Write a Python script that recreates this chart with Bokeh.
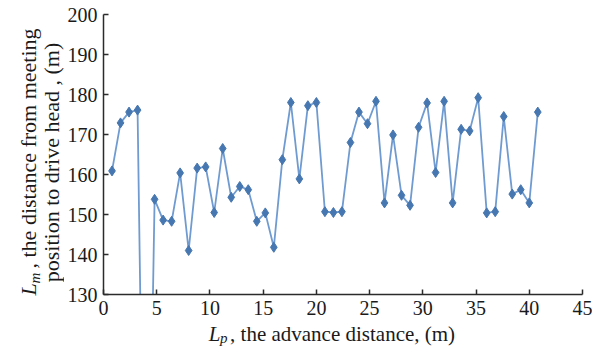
import math
from bokeh.plotting import figure
from bokeh.models import Range1d, FixedTicker
from bokeh.layouts import row, column
from bokeh.core.properties import value
from bokeh.embed import file_html
from bokeh.resources import INLINE

# ---- data ----
advance_m = [0.8, 1.6, 2.4, 3.2, 4.0, 4.8, 5.6, 6.4, 7.2, 8.0,
             8.8, 9.6, 10.4, 11.2, 12.0, 12.8, 13.6, 14.4, 15.2, 16.0,
             16.8, 17.6, 18.4, 19.2, 20.0, 20.8, 21.6, 22.4, 23.2, 24.0,
             24.8, 25.6, 26.4, 27.2, 28.0, 28.8, 29.6, 30.4, 31.2, 32.0,
             32.8, 33.6, 34.4, 35.2, 36.0, 36.8, 37.6, 38.4, 39.2, 40.0,
             40.8]
distance_m = [160.9, 172.9, 175.6, 176.1, 30.0, 153.8, 148.6, 148.3, 160.4, 141.0,
              161.6, 161.9, 150.5, 166.5, 154.3, 157.0, 156.2, 148.3, 150.4, 141.8,
              163.7, 178.0, 158.9, 177.2, 178.0, 150.7, 150.5, 150.7, 168.0, 175.6,
              172.7, 178.3, 152.9, 169.9, 154.8, 152.3, 171.8, 177.9, 160.5, 178.3,
              152.9, 171.3, 170.9, 179.2, 150.4, 150.7, 174.5, 155.1, 156.2, 152.9,
              175.6]
x_ticks = [0, 5, 10, 15, 20, 25, 30, 35, 40, 45]
y_ticks = [130, 140, 150, 160, 170, 180, 190, 200]

x_title_italic = "L"
x_title_sub = "p"
x_title_rest = ", the advance distance,  (m)"
y_title1_italic = "L"
y_title1_sub = "m"
y_title1_rest = ", the distance from meeting"
y_title2 = "position to drive head , (m)"

# ---- layout geometry (pixels) ----
TOTAL_W, TOTAL_H = 592, 346
LEFT_W = 64                      # strip holding the rotated y title
MAIN_W = TOTAL_W - LEFT_W
BOTTOM_H = 24                    # strip holding the x title
MAIN_H = TOTAL_H - BOTTOM_H
B_LEFT, B_TOP, B_RIGHT = 38, 14, 10
B_BOTTOM = MAIN_H - B_TOP - 280

FONT = "Liberation Serif"
AXIS_COL = "#2b2b2b"
TXT = "#1a1a1a"
LINE_COL = "#6f9bd0"
MARK_COL = "#4677b0"

# ---- main chart ----
p = figure(width=MAIN_W, height=MAIN_H, output_backend="svg", toolbar_location=None,
           tools="", x_range=Range1d(0, 45), y_range=Range1d(130, 200),
           min_border_left=B_LEFT, min_border_top=B_TOP,
           min_border_right=B_RIGHT, min_border_bottom=B_BOTTOM)
p.outline_line_color = None
p.xgrid.visible = False
p.ygrid.visible = False

p.line(advance_m, distance_m, line_color=LINE_COL, line_width=1.8)
p.scatter(advance_m, distance_m, marker="diamond", size=10,
          fill_color=MARK_COL, line_color=MARK_COL)

for ax, ticks in ((p.xaxis[0], x_ticks), (p.yaxis[0], y_ticks)):
    ax.ticker = FixedTicker(ticks=ticks)
    ax.axis_line_color = AXIS_COL
    ax.axis_line_width = 1.5
    ax.major_tick_line_color = AXIS_COL
    ax.major_tick_line_width = 1.5
    ax.major_tick_in = 5
    ax.major_tick_out = 0
    ax.minor_tick_line_color = None
    ax.major_label_text_font = FONT
    ax.major_label_text_font_size = "20px"
    ax.major_label_text_color = TXT
p.xaxis[0].major_label_standoff = 6
p.yaxis[0].major_label_standoff = 6


def strip(w, h):
    f = figure(width=w, height=h, output_backend="svg", toolbar_location=None,
               tools="", x_range=Range1d(0, w), y_range=Range1d(0, h),
               x_axis_location=None, y_axis_location=None, min_border=0,
               min_border_left=0, min_border_right=0,
               min_border_top=0, min_border_bottom=0)
    f.outline_line_color = None
    f.xgrid.visible = False
    f.ygrid.visible = False
    return f


def put(f, x, y, txt, size, italic=False, angle=0.0, align="left"):
    f.text(x=[x], y=[y], text=[txt], angle=angle,
           text_font=value(FONT), text_font_size=size,
           text_font_style="italic" if italic else "normal",
           text_color=TXT, text_align=align, text_baseline="middle")


# ---- rotated y title (left strip; x = image x, y measured from bottom) ----
yl = strip(LEFT_W, TOTAL_H)
ang = math.pi / 2
y_start = TOTAL_H - 295          # lower end of the first line
put(yl, 28.0, y_start, y_title1_italic, "22px", italic=True, angle=ang)
put(yl, 34.5, y_start + 12, y_title1_sub, "15px", italic=True, angle=ang)
put(yl, 28.0, y_start + 27, y_title1_rest, "22px", angle=ang)
put(yl, 50.5, TOTAL_H - 162, y_title2, "22px", angle=ang, align="center")

# ---- x title (bottom strip; x relative to strip, y from strip bottom) ----
xl = strip(MAIN_W, BOTTOM_H)
bx = 208 - LEFT_W - 28
put(xl, bx, 12.2, x_title_italic, "21px", italic=True)
put(xl, bx + 12.5, 8.5, x_title_sub, "15px", italic=True)
put(xl, bx + 23.5, 12.2, x_title_rest, "21px")

layout = row(yl, column(p, xl))
open("out.html", "w").write(file_html(layout, INLINE))
